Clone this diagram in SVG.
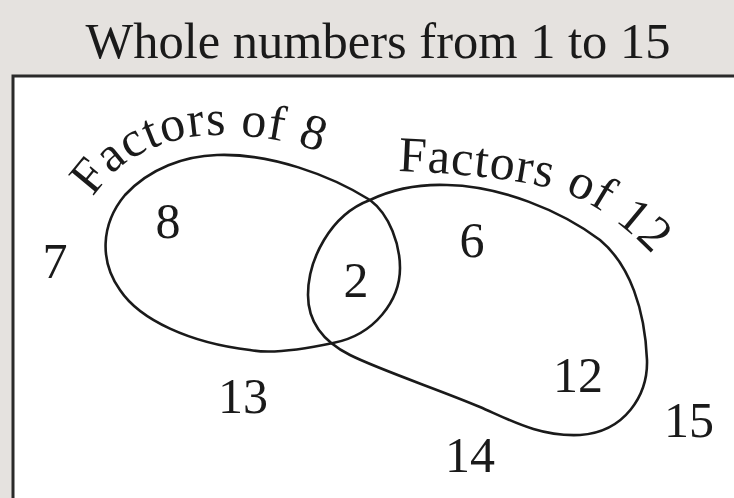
<svg xmlns="http://www.w3.org/2000/svg" width="734" height="498" viewBox="0 0 734 498">
  <rect x="0" y="0" width="734" height="498" fill="#e5e2df"/>
  <g id="universe" font-family="Liberation Serif" fill="#1a1a1a">
    <rect x="13" y="76" width="740" height="440" fill="#ffffff" stroke="#2a2a2a" stroke-width="3"/>
    <text x="378" y="58" font-size="50.5" text-anchor="middle" font-family="Liberation Serif" fill="#1a1a1a">Whole numbers from 1 to 15</text>
  </g>
  <g id="connectors" fill="none" stroke="#1a1a1a" stroke-width="2.6">
    <path id="set8-outline" d="M 217,155 C 270,153 330,175 370,200 C 390,215 400,245 400,268 C 400,300 375,335 333,343 C 300,350 270,354 250,350 C 190,343 140,320 120,290 C 100,262 100,225 125,195 C 150,168 185,156 217,155 Z"/>
    <path id="set12-outline" d="M 370,200 C 395,188 420,184 447,185 C 500,186 560,210 600,240 C 630,265 645,310 647,360 C 648,395 625,432 580,435 C 540,437 510,420 480,407 C 440,390 380,370 350,355 C 320,340 308,318 308,295 C 308,260 330,215 370,200 Z"/>
  </g>
  <g id="set-factors-of-8" font-family="Liberation Serif" font-size="50" fill="#1a1a1a">
    <text font-family="Liberation Serif" font-size="50" fill="#1a1a1a" x="92.6 111.1 129.3 149.8 163.5 188.7 206.3 226.7 240.2 266.1 283.4 296.7" y="196.7 174.6 160.2 149.2 143.4 137.1 135.2 135.3 135.6 138.3 141.6 144.3" rotate="-50.7 -38.9 -29.2 -21.8 -14.5 -6.6 -0.8 2 5.7 9.8 11.5 18.1">Factors of 8</text>
  </g>
  <g id="set-factors-of-12" font-family="Liberation Serif" font-size="50" fill="#1a1a1a">
    <text font-family="Liberation Serif" font-size="50" fill="#1a1a1a" x="398.0 426.9 450.1 473.3 488.2 514.1 531.6 551.7 564.8 588.4 603.5 614.7 634.8" y="171.0 172.3 173.9 176.0 177.5 181.0 184.0 188.5 192.2 203.3 212.6 220.4 237.1" rotate="2.8 3.8 4.9 6.1 7.6 9.7 12.4 17.1 24.3 31.2 35.2 39.6 43.8">Factors of 12</text>
  </g>
  <g id="elements" font-family="Liberation Serif" font-size="50" text-anchor="middle" fill="#1a1a1a">
    <text font-family="Liberation Serif" x="55" y="278">7</text>
    <text font-family="Liberation Serif" x="168" y="238">8</text>
    <text font-family="Liberation Serif" x="356" y="297">2</text>
    <text font-family="Liberation Serif" x="472" y="257">6</text>
    <text font-family="Liberation Serif" x="243" y="413">13</text>
    <text font-family="Liberation Serif" x="578" y="392">12</text>
    <text font-family="Liberation Serif" x="470" y="472">14</text>
    <text font-family="Liberation Serif" x="689" y="437">15</text>
  </g>
</svg>
